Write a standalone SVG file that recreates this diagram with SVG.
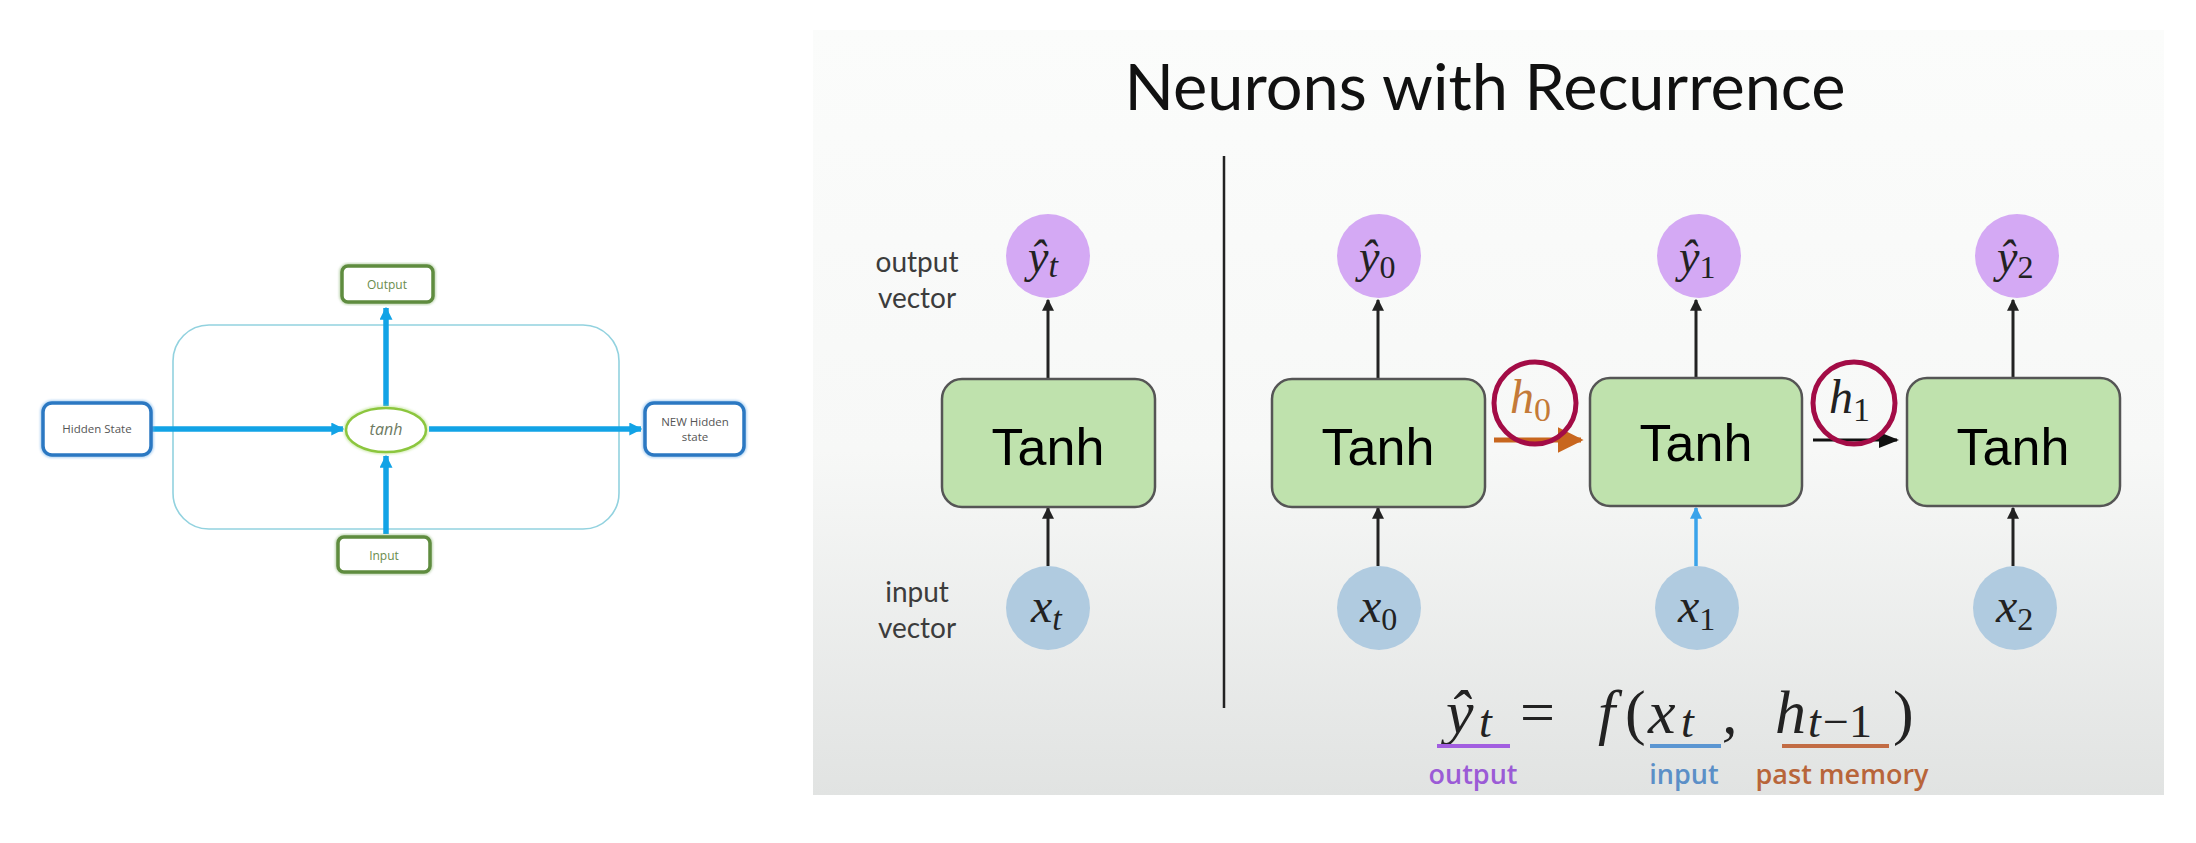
<svg xmlns="http://www.w3.org/2000/svg" width="2196" height="843" viewBox="0 0 2196 843">
<defs>
<linearGradient id="panelBg" x1="0" y1="0" x2="0" y2="1">
<stop offset="0" stop-color="#fbfcfb"/>
<stop offset="0.55" stop-color="#f7f8f7"/>
<stop offset="1" stop-color="#e1e3e2"/>
</linearGradient>
<filter id="soft" x="-10%" y="-10%" width="120%" height="120%"><feGaussianBlur stdDeviation="1.2"/></filter>
<marker id="bhead" viewBox="0 0 10 10" refX="9" refY="5" markerWidth="13" markerHeight="13" markerUnits="userSpaceOnUse" orient="auto"><path d="M0,0 L10,5 L0,10 z" fill="#12a3e6"/></marker>
<marker id="khead" viewBox="0 0 10 10" refX="9" refY="5" markerWidth="12" markerHeight="12" markerUnits="userSpaceOnUse" orient="auto"><path d="M0,0 L10,5 L0,10 z" fill="#222"/></marker>
<marker id="khead2" viewBox="0 0 10 10" refX="9" refY="5" markerWidth="20" markerHeight="20" markerUnits="userSpaceOnUse" orient="auto"><path d="M0,1 L10,5 L0,9 z" fill="#111"/></marker>
<marker id="ohead" viewBox="0 0 10 10" refX="9" refY="5" markerWidth="26" markerHeight="26" markerUnits="userSpaceOnUse" orient="auto"><path d="M0,0 L10,5 L0,10 z" fill="#c8661e"/></marker>
<marker id="lbhead" viewBox="0 0 10 10" refX="9" refY="5" markerWidth="12" markerHeight="12" markerUnits="userSpaceOnUse" orient="auto"><path d="M0,0 L10,5 L0,10 z" fill="#3aa3ea"/></marker>
</defs>
<style>
.bluebox{fill:#fff;stroke:#2b78c2;stroke-width:3.5}
.greenbox{fill:#fff;stroke:#5f8c3f;stroke-width:3.5}
.ltxt{font-family:"Open Sans","Liberation Sans",sans-serif;font-size:11.5px;fill:#555;text-anchor:middle}
.gtxt{font-family:"Open Sans","Liberation Sans",sans-serif;font-size:12px;fill:#6a8c4c;text-anchor:middle}
.barrow{stroke:#12a3e6;stroke-width:5.5;fill:none}
.tanhbox{fill:#bfe2ad;stroke:#555;stroke-width:2.5}
.tanhtxt{font-family:"Liberation Sans",Arial,sans-serif;font-size:52px;fill:#000;text-anchor:middle}
.ycirc{fill:#d4a9f4}
.xcirc{fill:#b0cbe0}
.math{font-family:"Liberation Serif","DejaVu Serif",serif;font-style:italic;fill:#222}
.up{font-style:normal}
.karrow{stroke:#222;stroke-width:3;fill:none}
.side{font-family:Lato,"Open Sans",sans-serif;font-size:28px;fill:#3c3c3c;text-anchor:middle}
.hcirc{fill:none;stroke:#a30c46;stroke-width:5}
.lbl{font-family:"Open Sans",Lato,sans-serif;font-size:27px;font-weight:600;text-anchor:middle}
</style>
<rect x="0" y="0" width="2196" height="843" fill="#ffffff"/>

<!-- LEFT DIAGRAM -->
<g id="left-container">
<rect x="173" y="325" width="446" height="204" rx="36" ry="36" fill="none" stroke="#92d2df" stroke-width="1.6"/>
</g>
<g id="left-connectors">
<line class="barrow" x1="151" y1="429" x2="343" y2="429" marker-end="url(#bhead)"/>
<line class="barrow" x1="429" y1="429" x2="641" y2="429" marker-end="url(#bhead)"/>
<line class="barrow" x1="386" y1="406" x2="386" y2="308" marker-end="url(#bhead)"/>
<line class="barrow" x1="386" y1="534" x2="386" y2="456" marker-end="url(#bhead)"/>
</g>
<g id="hidden-state">
<rect x="43" y="403" width="108" height="52" rx="9" fill="none" stroke="#6fb0ea" stroke-width="6" opacity="0.5" filter="url(#soft)"/>
<rect class="bluebox" x="43" y="403" width="108" height="52" rx="9"/>
<text class="ltxt" x="97" y="433">Hidden State</text>
</g>
<g id="new-hidden-state">
<rect x="645" y="403" width="99" height="52" rx="9" fill="none" stroke="#6fb0ea" stroke-width="6" opacity="0.5" filter="url(#soft)"/>
<rect class="bluebox" x="645" y="403" width="99" height="52" rx="9"/>
<text class="ltxt" x="695" y="426">NEW Hidden</text>
<text class="ltxt" x="695" y="441">state</text>
</g>
<g id="output-box">
<rect x="342" y="266" width="91" height="36" rx="6" fill="none" stroke="#8fb878" stroke-width="6" opacity="0.5" filter="url(#soft)"/>
<rect class="greenbox" x="342" y="266" width="91" height="36" rx="6"/>
<text class="gtxt" x="387" y="289">Output</text>
</g>
<g id="input-box">
<rect x="338" y="537" width="92" height="35" rx="6" fill="none" stroke="#8fb878" stroke-width="6" opacity="0.5" filter="url(#soft)"/>
<rect class="greenbox" x="338" y="537" width="92" height="35" rx="6"/>
<text class="gtxt" x="384" y="560">Input</text>
</g>
<g id="tanh-node">
<ellipse cx="386" cy="430" rx="40" ry="22" fill="#fff" stroke="#b9e28a" stroke-width="5" opacity="0.6" filter="url(#soft)"/>
<ellipse cx="386" cy="430" rx="40" ry="22" fill="#fff" stroke="#8cc63e" stroke-width="2.5"/>
<text x="386" y="435" font-family="'Open Sans','Liberation Sans',sans-serif" font-style="italic" font-size="16" fill="#6d7a62" text-anchor="middle">tanh</text>
</g>

<!-- RIGHT PANEL -->
<rect x="813" y="30" width="1351" height="765" fill="url(#panelBg)"/>
<g id="title">
<text x="1485" y="110" font-family="Lato,'Open Sans',sans-serif" font-size="64" fill="#111" text-anchor="middle" textLength="721" lengthAdjust="spacingAndGlyphs">Neurons with Recurrence</text>
</g>
<g id="divider">
<line x1="1224" y1="156" x2="1224" y2="708" stroke="#222" stroke-width="2.5"/>
</g>
<g id="side-labels">
<text class="side" x="917" y="272">output</text>
<text class="side" x="917" y="308">vector</text>
<text class="side" x="917" y="602">input</text>
<text class="side" x="917" y="638">vector</text>
</g>

<g id="connectors">
<line class="karrow" x1="1048" y1="379" x2="1048" y2="300" marker-end="url(#khead)"/>
<line class="karrow" x1="1048" y1="566" x2="1048" y2="508" marker-end="url(#khead)"/>
<line class="karrow" x1="1378" y1="379" x2="1378" y2="300" marker-end="url(#khead)"/>
<line class="karrow" x1="1378" y1="566" x2="1378" y2="508" marker-end="url(#khead)"/>
<line class="karrow" x1="1696" y1="378" x2="1696" y2="300" marker-end="url(#khead)"/>
<line x1="1696" y1="566" x2="1696" y2="508" stroke="#3aa3ea" stroke-width="3.5" marker-end="url(#lbhead)"/>
<line class="karrow" x1="2013" y1="378" x2="2013" y2="300" marker-end="url(#khead)"/>
<line class="karrow" x1="2013" y1="566" x2="2013" y2="508" marker-end="url(#khead)"/>
<line x1="1494" y1="440" x2="1581" y2="440" stroke="#c8661e" stroke-width="5" marker-end="url(#ohead)"/>
<line x1="1813" y1="440" x2="1897" y2="440" stroke="#111" stroke-width="3" marker-end="url(#khead2)"/>
</g>

<g id="cell-single">
<rect class="tanhbox" x="942" y="379" width="213" height="128" rx="20"/>
<text class="tanhtxt" x="1048" y="465">Tanh</text>
</g>
<g id="cell-0">
<rect class="tanhbox" x="1272" y="379" width="213" height="128" rx="20"/>
<text class="tanhtxt" x="1378" y="465">Tanh</text>
</g>
<g id="cell-1">
<rect class="tanhbox" x="1590" y="378" width="212" height="128" rx="20"/>
<text class="tanhtxt" x="1696" y="461">Tanh</text>
</g>
<g id="cell-2">
<rect class="tanhbox" x="1907" y="378" width="213" height="128" rx="20"/>
<text class="tanhtxt" x="2013" y="465">Tanh</text>
</g>

<g id="y-t">
<circle class="ycirc" cx="1048" cy="256" r="42"/>
<text class="math" x="1028" y="272" font-size="46">ŷ<tspan font-size="34" dy="5">t</tspan></text>
</g>
<g id="y-0">
<circle class="ycirc" cx="1379" cy="256" r="42"/>
<text class="math" x="1359" y="272" font-size="46">ŷ<tspan class="up" font-size="32" dy="6">0</tspan></text>
</g>
<g id="y-1">
<circle class="ycirc" cx="1699" cy="256" r="42"/>
<text class="math" x="1679" y="272" font-size="46">ŷ<tspan class="up" font-size="32" dy="6">1</tspan></text>
</g>
<g id="y-2">
<circle class="ycirc" cx="2017" cy="256" r="42"/>
<text class="math" x="1997" y="272" font-size="46">ŷ<tspan class="up" font-size="32" dy="6">2</tspan></text>
</g>
<g id="x-t">
<circle class="xcirc" cx="1048" cy="608" r="42"/>
<text class="math" x="1031" y="622" font-size="48">x<tspan font-size="34" dy="8">t</tspan></text>
</g>
<g id="x-0">
<circle class="xcirc" cx="1379" cy="608" r="42"/>
<text class="math" x="1360" y="622" font-size="48">x<tspan class="up" font-size="32" dy="8">0</tspan></text>
</g>
<g id="x-1">
<circle class="xcirc" cx="1697" cy="608" r="42"/>
<text class="math" x="1678" y="622" font-size="48">x<tspan class="up" font-size="32" dy="8">1</tspan></text>
</g>
<g id="x-2">
<circle class="xcirc" cx="2015" cy="608" r="42"/>
<text class="math" x="1996" y="622" font-size="48">x<tspan class="up" font-size="32" dy="8">2</tspan></text>
</g>

<g id="h-0">
<text class="math" x="1510" y="413" font-size="48" style="fill:#c47a38">h<tspan class="up" font-size="34" dy="8">0</tspan></text>
<circle class="hcirc" cx="1535" cy="403" r="41"/>
</g>
<g id="h-1">
<text class="math" x="1829" y="413" font-size="48">h<tspan class="up" font-size="34" dy="8">1</tspan></text>
<circle class="hcirc" cx="1854" cy="403" r="41"/>
</g>

<g id="formula">
<text class="math" font-size="62"><tspan x="1446" y="733">ŷ</tspan><tspan x="1479" y="737" font-size="46">t</tspan><tspan class="up" x="1520" y="733">=</tspan><tspan x="1598" y="733">f</tspan><tspan class="up" x="1625" y="733">(</tspan><tspan x="1648" y="733">x</tspan><tspan x="1681" y="737" font-size="46">t</tspan><tspan x="1722" y="733">,</tspan><tspan x="1775" y="733">h</tspan><tspan x="1808" y="737" font-size="46">t</tspan><tspan class="up" x="1823" y="737" font-size="46">−1</tspan><tspan class="up" x="1893" y="733">)</tspan></text>
<line x1="1437" y1="746" x2="1510" y2="746" stroke="#a25ee0" stroke-width="4"/>
<line x1="1650" y1="746" x2="1721" y2="746" stroke="#5b96d2" stroke-width="4"/>
<line x1="1782" y1="746" x2="1889" y2="746" stroke="#c26c44" stroke-width="4"/>
<text class="lbl" x="1473" y="784" fill="#9b5bd6">output</text>
<text class="lbl" x="1684" y="784" fill="#5b8fc7">input</text>
<text class="lbl" x="1842" y="784" fill="#b8653a">past memory</text>
</g>
</svg>
